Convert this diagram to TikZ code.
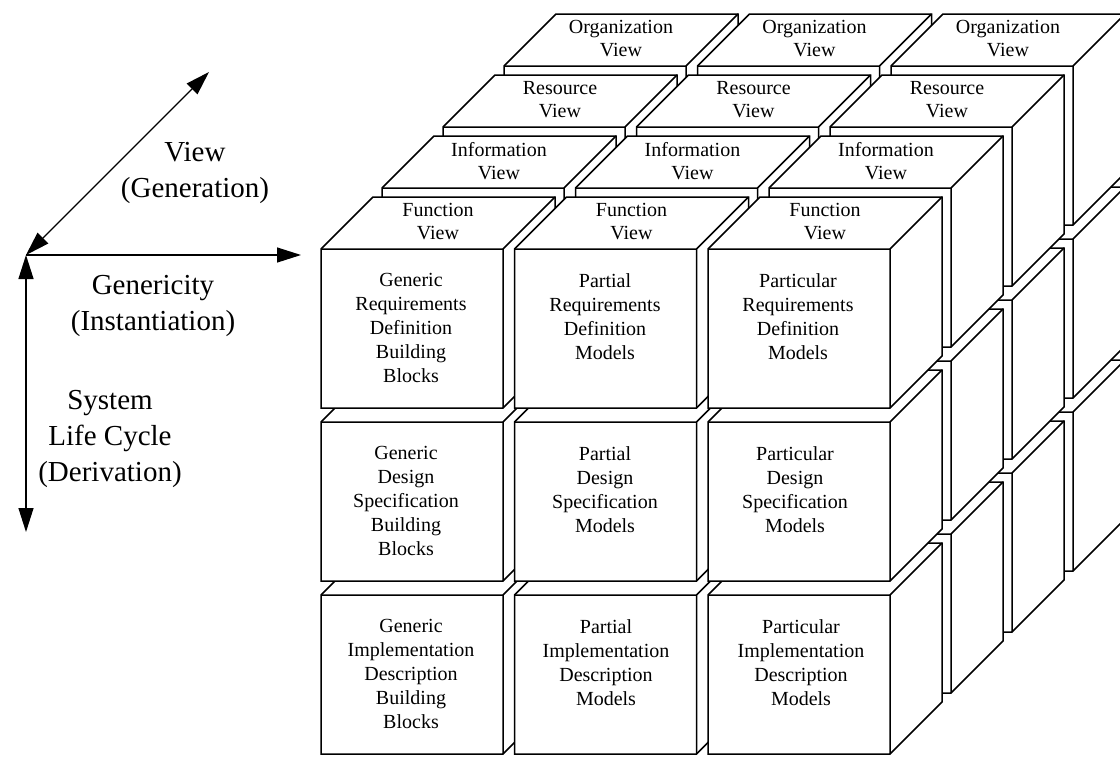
\documentclass[tikz,border=0pt]{standalone}
\usepackage{fontspec}
\setmainfont{Liberation Serif}
\usetikzlibrary{arrows.meta}

% one cube, front top-left corner at (#1,#2)
\newcommand{\drawcube}[2]{%
  \begin{scope}[shift={(#1,#2)}]
    \filldraw[cubeface] (0,0) -- (52,-52) -- (234,-52) -- (234,107) -- (182,159) -- (0,159) -- cycle;
    \draw[cubeedge] (0,0) -- (182,0) -- (234,-52) (182,0) -- (182,159);
  \end{scope}}

\begin{document}
\begin{tikzpicture} [
    x=1pt, y=-1pt,
    cubeface/.style={draw=black, fill=white, line width=1.5pt},
    cubeedge/.style={draw=black, line width=1.5pt},
    facetext/.style={anchor=north, align=center, inner sep=0pt, font=\fontsize{20}{24}\selectfont},
    viewtext/.style={align=center, inner sep=0pt, font=\fontsize{20}{23}\selectfont},
    axislabel/.style={align=center, inner sep=0pt, font=\fontsize{29}{36}\selectfont},
    axis/.style={line width=1.3pt, >={Triangle[length=24pt, width=15pt]}}
]
\useasboundingbox (0,0) rectangle (1120,756);

% cubes, back layer first
\foreach \l/\vname in {3/Organization, 2/Resource, 1/Information, 0/Function} {
  \foreach \r in {2,1,0} {
    \foreach \c in {0,1,2} {
      \pgfmathsetmacro{\cx}{321+193.5*\c+61*\l}
      \pgfmathsetmacro{\cy}{249+173*\r-61*\l}
      \drawcube{\cx}{\cy}
    }
  }
  \foreach \c in {0,1,2}
    \node[viewtext] (\vname\c) at ({438+193.5*\c+61*\l},{222-61*\l}) {\vname\\View};
}

% front faces
\node[facetext] (genreq) at (411,273) {Generic\\Requirements\\Definition\\Building\\Blocks};
\node[facetext] (parreq) at (605,273) {Partial\\Requirements\\Definition\\Models};
\node[facetext] (partreq) at (798,273) {Particular\\Requirements\\Definition\\Models};
\node[facetext] (gendes) at (406,446) {Generic\\Design\\Specification\\Building\\Blocks};
\node[facetext] (pardes) at (605,446) {Partial\\Design\\Specification\\Models};
\node[facetext] (partdes) at (795,446) {Particular\\Design\\Specification\\Models};
\node[facetext] (genimp) at (411,619) {Generic\\Implementation\\Description\\Building\\Blocks};
\node[facetext] (parimp) at (606,619) {Partial\\Implementation\\Description\\Models};
\node[facetext] (partimp) at (801,619) {Particular\\Implementation\\Description\\Models};

% axes
\coordinate (origin) at (26,255);
\coordinate (viewend) at (209,72);
\coordinate (genend) at (301,255);
\coordinate (lifeend) at (26,532);
\draw[axis, <->] (origin) -- (viewend);
\draw[axis, ->] (origin) -- (genend);
\draw[axis, <->] (origin) -- (lifeend);

\node[axislabel] (view) at (195,173) {View\\(Generation)};
\node[axislabel] (gener) at (153,306) {Genericity\\(Instantiation)};
\node[axislabel] (life) at (110,439) {System\\Life Cycle\\(Derivation)};

\end{tikzpicture}
\end{document}
